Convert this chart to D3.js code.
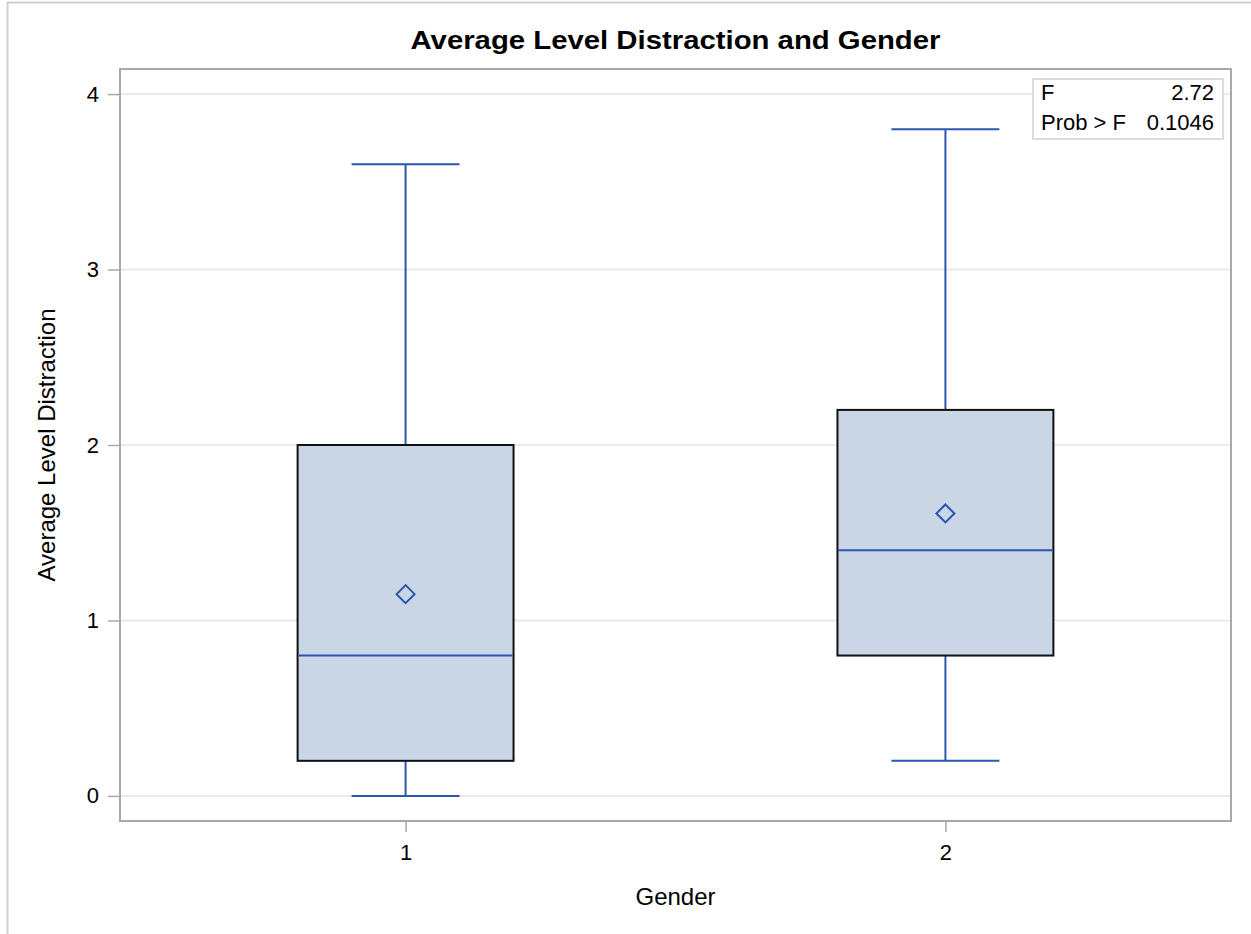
<!DOCTYPE html>
<html>
<head>
<meta charset="utf-8">
<script src="https://cdn.jsdelivr.net/npm/d3@7"></script>
<style>
  body { margin: 0; background: #fff; }
  text { font-family: "Liberation Sans", Arial, sans-serif; fill: #000; }
</style>
</head>
<body>
<svg width="1251" height="934"></svg>
<script>
// box plot stats per gender
var genders = ["1", "2"];
var mins = [0, 0.2];
var q1s = [0.2, 0.8];
var medians = [0.8, 1.4];
var q3s = [2.0, 2.2];
var maxs = [3.6, 3.8];
var means = [1.15, 1.61];
var yTicks = [0, 1, 2, 3, 4];
var statRows = [["F", "2.72"], ["Prob > F", "0.1046"]];

var svg = d3.select("svg"),
    margin = {top: 69, right: 20, bottom: 113, left: 120},
    width = 1251 - margin.left - margin.right,
    height = 934 - margin.top - margin.bottom,
    g = svg.append("g").attr("transform", "translate(" + margin.left + "," + margin.top + ")");

var blue = "#2a56b0";

// outer frame
svg.append("path").attr("d", "M7.5,934V2.5H1251").attr("fill", "none").attr("stroke", "#d0d0d0").attr("stroke-width", 2);

var x = d3.scalePoint().domain(genders).range([0, width]).padding(0.529),
    y = d3.scaleLinear().domain([-0.143, 4.143]).range([height, 0]);

var boxW = x.step() * 0.4;

var data = genders.map(function(gd, i) {
  return {id: gd, min: mins[i], q1: q1s[i], med: medians[i], q3: q3s[i], max: maxs[i], mean: means[i]};
});

// grid
g.selectAll(".grid").data(yTicks).enter().append("line")
  .attr("x1", 0).attr("x2", width)
  .attr("y1", function(d) { return y(d); }).attr("y2", function(d) { return y(d); })
  .attr("stroke", "#e4e4e4").attr("stroke-width", 1.5);

// axes
var yAxis = g.append("g").call(d3.axisLeft(y).tickValues(yTicks).tickSize(12).tickPadding(9).tickFormat(d3.format("d")));
var xAxis = g.append("g").attr("transform", "translate(0," + height + ")")
  .call(d3.axisBottom(x).tickSize(11).tickPadding(12));
[yAxis, xAxis].forEach(function(a) {
  a.select(".domain").remove();
  a.selectAll("line").attr("stroke", "#a8a8a8").attr("stroke-width", 1.5);
  a.selectAll("text").style("font-size", "22px").style("font-family", "Liberation Sans, Arial, sans-serif").attr("fill", "#000");
});

var box = g.selectAll(".box").data(data).enter().append("g").attr("class", "box");

// whiskers
box.append("line")
  .attr("x1", function(d) { return x(d.id); }).attr("x2", function(d) { return x(d.id); })
  .attr("y1", function(d) { return y(d.max); }).attr("y2", function(d) { return y(d.q3); })
  .attr("stroke", blue).attr("stroke-width", 2);
box.append("line")
  .attr("x1", function(d) { return x(d.id); }).attr("x2", function(d) { return x(d.id); })
  .attr("y1", function(d) { return y(d.q1); }).attr("y2", function(d) { return y(d.min); })
  .attr("stroke", blue).attr("stroke-width", 2);
["max", "min"].forEach(function(k) {
  box.append("line")
    .attr("x1", function(d) { return x(d.id) - boxW / 4; }).attr("x2", function(d) { return x(d.id) + boxW / 4; })
    .attr("y1", function(d) { return y(d[k]); }).attr("y2", function(d) { return y(d[k]); })
    .attr("stroke", blue).attr("stroke-width", 2);
});

box.append("rect")
  .attr("x", function(d) { return x(d.id) - boxW / 2; })
  .attr("y", function(d) { return y(d.q3); })
  .attr("width", boxW)
  .attr("height", function(d) { return y(d.q1) - y(d.q3); })
  .attr("fill", "#cad5e6").attr("stroke", "#111").attr("stroke-width", 2);

box.append("line")
  .attr("x1", function(d) { return x(d.id) - boxW / 2 + 1; }).attr("x2", function(d) { return x(d.id) + boxW / 2 - 1; })
  .attr("y1", function(d) { return y(d.med); }).attr("y2", function(d) { return y(d.med); })
  .attr("stroke", blue).attr("stroke-width", 2);

box.append("path")
  .attr("transform", function(d) { return "translate(" + x(d.id) + "," + y(d.mean) + ")"; })
  .attr("d", "M0,-9L9,0L0,9L-9,0Z")
  .attr("fill", "none").attr("stroke", blue).attr("stroke-width", 2);

// plot frame
g.append("rect").attr("width", width).attr("height", height)
  .attr("fill", "none").attr("stroke", "#a8a8a8").attr("stroke-width", 2);

// stats inset
var inset = g.append("g").attr("transform", "translate(" + (width - 198) + ",10)");
inset.append("rect").attr("width", 190).attr("height", 60)
  .attr("fill", "#fff").attr("stroke", "#cfcfcf").attr("stroke-width", 1.5);
statRows.forEach(function(r, i) {
  inset.append("text").attr("x", 8).attr("y", 21 + i * 30).style("font-size", "22px").text(r[0]);
  inset.append("text").attr("x", 181).attr("y", 21 + i * 30).attr("text-anchor", "end").style("font-size", "22px").text(r[1]);
});

// titles
svg.append("text").attr("x", margin.left + width / 2).attr("y", 49)
  .attr("text-anchor", "middle").style("font-size", "26px").style("font-weight", "bold")
  .attr("textLength", 530).attr("lengthAdjust", "spacingAndGlyphs")
  .text("Average Level Distraction and Gender");
svg.append("text").attr("x", margin.left + width / 2).attr("y", 905)
  .attr("text-anchor", "middle").style("font-size", "24px").text("Gender");
svg.append("text").attr("transform", "translate(55," + (margin.top + y(2)) + ") rotate(-90)")
  .attr("text-anchor", "middle").style("font-size", "24px").text("Average Level Distraction");
</script>
</body>
</html>
